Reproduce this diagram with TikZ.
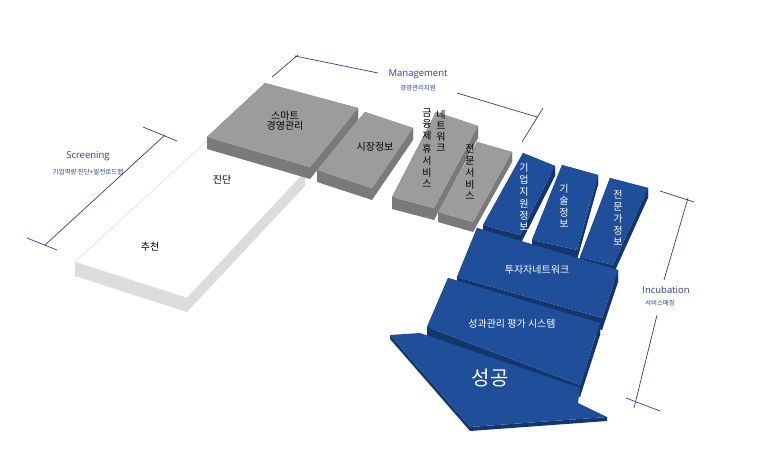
\documentclass[tikz,border=0pt]{standalone}
\usepackage{fontspec}
\setmainfont{Noto Sans CJK KR}
\newfontfamily\lat{Open Sans}
\definecolor{gtop}{HTML}{9C9C9C}\definecolor{gside}{HTML}{7A7A7A}
\definecolor{btop}{HTML}{1F4E9A}\definecolor{bside}{HTML}{14366F}
\definecolor{wside}{HTML}{DCDCDC}\definecolor{lab}{HTML}{2B3E91}
\newcommand{\myquad}[3]{\fill[#1] (#2) -- (#3) -- ([yshift=-\slabt]#3) -- ([yshift=-\slabt]#2) -- cycle;}
\newcommand{\myslab}[7]{%
 \coordinate (qa) at (#3);\coordinate (qb) at (#4);\coordinate (qc) at (#5);\coordinate (qd) at (#6);
 \def\slabt{#7pt}%
 \myquad{#2}{qa}{qb}\myquad{#2}{qb}{qc}\myquad{#2}{qc}{qd}\myquad{#2}{qd}{qa}%
 \fill[#1] (qa) -- (qb) -- (qc) -- (qd) -- cycle;}
\begin{document}
\begin{tikzpicture}[x=1pt,y=-1pt,
 brk/.style={draw=lab,line width=0.7pt},
 lt/.style={font=\lat\fontsize{9.5}{10}\selectfont,text=lab,inner sep=0},
 ls/.style={font=\fontsize{6.5}{7}\selectfont,text=lab,inner sep=0},
 dk/.style={font=\fontsize{10}{10.5}\selectfont,inner sep=0,align=center,text=black},
 wt/.style={font=\fontsize{10}{10.5}\selectfont,inner sep=0,align=center,text=white}]
\useasboundingbox (0,0) rectangle (773,465);
% white slab
\myslab{white}{wside}{208,140}{305,172}{187,298}{75,262}{14}
\draw[black!15] (208,140)--(305,172)--(187,298)--(75,262)--cycle;
% gray slabs
\myslab{gtop}{gside}{207,137}{265,83}{358,108}{310,167}{12}
\myslab{gtop}{gside}{317,170}{365,112}{413,128}{372,188}{12}
\myslab{gtop}{gside}{392,197}{436,112}{478,126}{434,208}{12}
\myslab{gtop}{gside}{438,212}{477,142}{512,152}{473,222}{10}
% blue slabs
\myslab{btop}{bside}{483,225}{523,153}{555,166}{520,235}{10}
\myslab{btop}{bside}{532,240}{562,165}{598,175}{577,250}{10}
\myslab{btop}{bside}{580,257}{610,178}{648,188}{613,265}{10}
\myslab{btop}{bside}{457,277}{477,228}{618,270}{602,318}{12}
\myslab{btop}{bside}{427,327}{448,278}{600,323}{580,385}{12}
\fill[bside] (390,335)--(470,427)--(607,417)--(607,421)--(470,431)--(390,339)--cycle;
\fill[btop] (390,335)--(420,333)--(580,388)--(578,403)--(607,417)--(470,427)--cycle;
% texts
\node[dk] (t1) at (285,121) {스마트\\[-1pt]경영관리};
\node[dk] (t2) at (375,147) {시장정보};
\node[dk] (t3) at (222,180) {진단};
\node[dk] (t4) at (150,247) {추천};
\node[dk] (t5) at (441,131) {\shortstack{네\\트\\워\\크}};
\node[dk] (t6) at (427,148) {\shortstack{금\\융\\제\\휴\\서\\비\\스}};
\node[dk] (t7) at (470,172) {\shortstack{전\\문\\서\\비\\스}};
\node[wt] (t8) at (524,197) {\shortstack{기\\업\\지\\원\\정\\보}};
\node[wt] (t9) at (564,206) {\shortstack{기\\술\\정\\보}};
\node[wt] (t10) at (618,218) {\shortstack{전\\문\\가\\정\\보}};
\node[wt] (t11) at (537,270) {투자자네트워크};
\node[wt] (t12) at (512,324) {성과관리 평가 시스템};
\node[wt,font=\fontsize{20}{22}\selectfont] (t13) at (490,378) {성공};
% brackets
\node[lt] (s1) at (88,156) {Screening};
\node[ls] (s2) at (88,172) {기업역량 진단+발전로드맵};
\draw[brk] (45,245)--(165,135);
\draw[brk] (143,127)--(177,141);
\draw[brk] (27,238)--(57,250);
\node[lt] (m1) at (418,74) {Management};
\node[ls] (m2) at (418,88) {경영관리지원};
\draw[brk] (272,77)--(298,55) (295,56)--(378,73) (457,93)--(537,117) (543,108)--(522,142);
\node[lt] (i1) at (666,290) {Incubation};
\node[ls] (i2) at (660,303) {서비스매칭};
\draw[brk] (688,198)--(664,280) (657,315)--(634,408);
\draw[brk] (660,191)--(694,202) (626,398)--(660,411);
\end{tikzpicture}
\end{document}
